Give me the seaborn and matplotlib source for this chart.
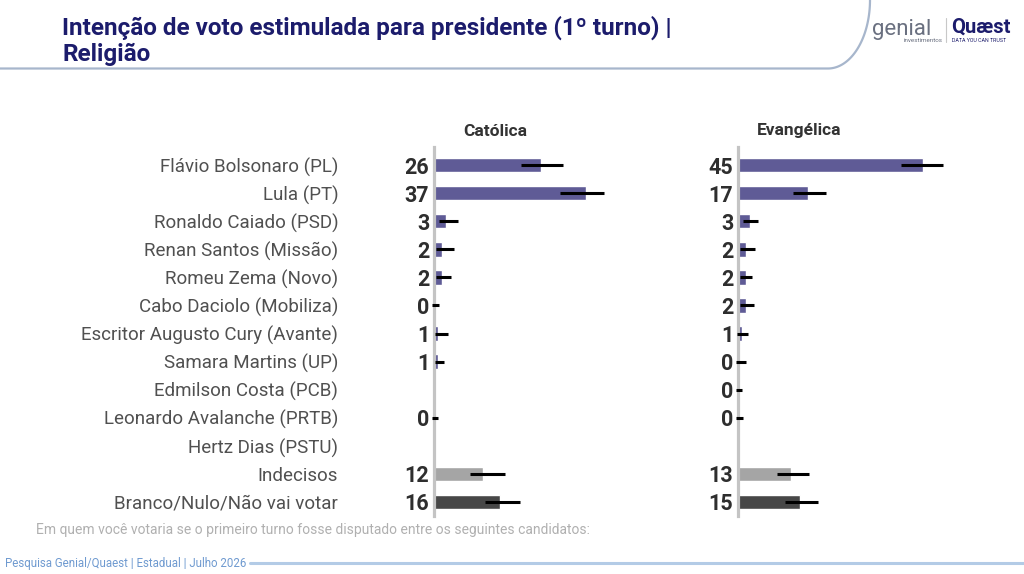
import numpy as np
import pandas as pd
import matplotlib
matplotlib.use("Agg")
import matplotlib.pyplot as plt
import seaborn as sns

sns.set_style("white")
plt.rcParams['font.family'] = ['Roboto', 'DejaVu Sans']

categories = ["Flávio Bolsonaro (PL)", "Lula (PT)", "Ronaldo Caiado (PSD)",
              "Renan Santos (Missão)", "Romeu Zema (Novo)", "Cabo Daciolo (Mobiliza)",
              "Escritor Augusto Cury (Avante)", "Samara Martins (UP)", "Edmilson Costa (PCB)",
              "Leonardo Avalanche (PRTB)", "Hertz Dias (PSTU)", "Indecisos",
              "Branco/Nulo/Não vai votar"]

catolica = [26, 37, 3, 2, 2, 0, 1, 1, np.nan, 0, np.nan, 12, 16]
catolica_lo = [21.2, 30.7, 1.1, 0.5, 0.5, -0.4, 0.2, 0.2, np.nan, -0.4, np.nan, 8.9, 12.4]
catolica_hi = [31.5, 41.5, 5.8, 4.9, 4.1, 1.3, 3.5, 2.5, np.nan, 1.0, np.nan, 17.2, 20.9]

evangelica = [45, 17, 3, 2, 2, 2, 1, 0, 0, 0, np.nan, 13, 15]
evangelica_lo = [39.8, 13.3, 1.1, 0.5, 0.5, 0.5, -0.3, -0.4, -0.4, -0.4, np.nan, 9.6, 11.4]
evangelica_hi = [50.1, 21.4, 4.9, 4.1, 3.3, 3.8, 2.5, 1.9, 1.0, 1.3, np.nan, 17.2, 19.5]

panel_titles = ["Católica", "Evangélica"]

PURPLE = "#5f5b96"
colors = {c: PURPLE for c in categories}
colors["Indecisos"] = "#a5a5a5"
colors["Branco/Nulo/Não vai votar"] = "#474747"

W, H = 1024, 574
fig = plt.figure(figsize=(W / 100, H / 100), dpi=100)

# decoration overlay
bg = fig.add_axes([0, 0, 1, 1], zorder=0)
bg.set_xlim(0, W)
bg.set_ylim(H, 0)
bg.axis("off")
t = np.linspace(0, 1, 60)
xs = np.concatenate([np.linspace(0, 828, 10), 828 + 42 * np.sin(t * np.pi / 2)])
ys = np.concatenate([np.full(10, 68.5), 68.5 - 68.5 * (1 - np.cos(t * np.pi / 2))])
bg.plot(xs, ys, color="#a7b6cc", lw=1.6, solid_capstyle="round")
bg.plot([250, W], [563, 563], color="#b3cbe6", lw=2.2)
bg.text(5, 563, "Pesquisa Genial/Quaest | Estadual | Julho 2026", color="#6f9ad0",
        fontsize=8.3, va="center", ha="left")
bg.text(62, 28, "Intenção de voto estimulada para presidente (1º turno) |", color="#1c1c6c",
        fontsize=17.5, fontweight="bold", va="center", ha="left")
bg.text(62, 54, "Religião", color="#1c1c6c", fontsize=17.5, fontweight="bold",
        va="center", ha="left")
bg.text(36, 530, "Em quem você votaria se o primeiro turno fosse disputado entre os seguintes candidatos:",
        color="#b0b0b0", fontsize=10, va="center", ha="left")
# logo texts
bg.text(872, 29, "genial", color="#6a7080", fontsize=16, va="center", ha="left")
bg.text(904, 41, "investimentos", color="#6a7080", fontsize=4.5, va="center", ha="left")
bg.plot([946, 946], [18, 42], color="#c8c8c8", lw=0.8)
bg.text(951, 27, "Quæst", color="#1c1c6c", fontsize=14.5, fontweight="bold", va="center", ha="left")
bg.text(952, 41, "DATA YOU CAN TRUST", color="#1c1c6c", fontsize=3.8, va="center", ha="left")

XMAX = 60.0
px_per_unit = 4.1
ax_w = XMAX * px_per_unit
row0, rowN = 165.0, 502.0
step = (rowN - row0) / 12
top_px, bot_px = 147.0, 516.0
ylim_top = (top_px - row0) / step
ylim_bot = (bot_px - row0) / step

panels = [(434.0, catolica, catolica_lo, catolica_hi),
          (738.0, evangelica, evangelica_lo, evangelica_hi)]

for k, (left_px, vals, lo, hi) in enumerate(panels):
    ax = fig.add_axes([left_px / W, 1 - bot_px / H, ax_w / W, (bot_px - top_px) / H], zorder=2)
    ax.patch.set_alpha(0)
    df = pd.DataFrame({"cat": categories, "val": np.nan_to_num(np.array(vals, float))})
    sns.barplot(data=df, x="val", y="cat", hue="cat", palette=colors, legend=False,
                order=categories, width=0.52, ax=ax, saturation=1, zorder=2)
    for i, (v, l, h) in enumerate(zip(vals, lo, hi)):
        if np.isnan(v):
            continue
        ax.hlines(i, l, h, color="black", lw=2.2, zorder=4, clip_on=False)
        ax.annotate(f"{int(v)}", (0, i), xytext=(-3.5, 0), textcoords="offset points",
                    ha="right", va="center_baseline", fontsize=15.5, fontweight="bold",
                    color="#2e2e2e", annotation_clip=False)
    ax.set_xlim(0, XMAX)
    ax.set_ylim(ylim_bot, ylim_top)
    ax.set_xlabel("")
    ax.set_ylabel("")
    ax.set_xticks([])
    for s in ["top", "right", "bottom"]:
        ax.spines[s].set_visible(False)
    ax.spines["left"].set_color("#c4c4c4")
    ax.spines["left"].set_linewidth(2.3)
    ax.spines["left"].set_zorder(3)
    ax.tick_params(axis="y", length=0)
    if k == 0:
        ax.set_yticks(range(len(categories)))
        ax.set_yticklabels(categories, fontsize=13.5, color="#505050")
        ax.tick_params(axis="y", pad=69)
    else:
        ax.set_yticks([])
    title_x = [495, 799][k]
    bg.text(title_x, 131, panel_titles[k], fontsize=12.5, fontweight="bold",
            color="#333333", ha="center", va="center")

fig.savefig("out.png", dpi=100)
